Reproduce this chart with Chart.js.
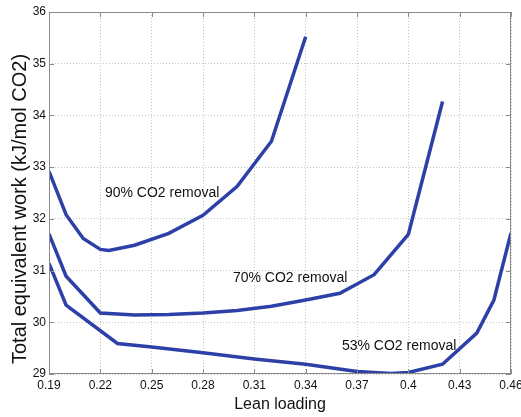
<!DOCTYPE html>
<html>
<head>
<meta charset="utf-8">
<script src="https://cdn.jsdelivr.net/npm/chart.js@4.4.0/dist/chart.umd.min.js"></script>
<style>
  html, body { margin: 0; padding: 0; background: #fff; }
</style>
</head>
<body>
<canvas id="workChart" width="521" height="417"></canvas>
<script>
// --- data ---
const xTicks = [0.19, 0.22, 0.25, 0.28, 0.31, 0.34, 0.37, 0.40, 0.43, 0.46];
const xTickLabels = ['0.19', '0.22', '0.25', '0.28', '0.31', '0.34', '0.37', '0.4', '0.43', '0.46'];
const yTicks = [29, 30, 31, 32, 33, 34, 35, 36];

const loading90 = [0.19, 0.20, 0.21, 0.22, 0.225, 0.24, 0.26, 0.28, 0.30, 0.32, 0.34];
const work90 = [32.92, 32.08, 31.62, 31.41, 31.39, 31.49, 31.72, 32.07, 32.63, 33.5, 35.52];

const loading70 = [0.19, 0.20, 0.22, 0.24, 0.26, 0.28, 0.30, 0.32, 0.34, 0.36, 0.38, 0.40, 0.42];
const work70 = [31.71, 30.89, 30.18, 30.14, 30.15, 30.18, 30.23, 30.31, 30.43, 30.56, 30.92, 31.7, 34.27];

const loading53 = [0.19, 0.20, 0.23, 0.25, 0.28, 0.31, 0.34, 0.37, 0.39, 0.40, 0.42, 0.44, 0.45, 0.46];
const work53 = [31.14, 30.33, 29.59, 29.52, 29.41, 29.29, 29.19, 29.05, 29.01, 29.03, 29.19, 29.79, 30.43, 31.73];

const curveLabels = ['90% CO2 removal', '70% CO2 removal', '53% CO2 removal'];
const curveLabelX = [0.2227, 0.2975, 0.3612];
const curveLabelY = [32.5, 30.86, 29.54];

const lineColor = 'rgb(45, 64, 168)';
const font = '"Liberation Sans", Arial, sans-serif';

function toPoints(xs, ys) {
    return xs.map((x, i) => ({ x: x, y: ys[i] }));
}

function makeSeries(label, xs, ys) {
    return {
        label: label,
        data: toPoints(xs, ys),
        showLine: true,
        borderColor: lineColor,
        borderWidth: 3.5,
        pointRadius: 0,
        tension: 0,
        fill: false
    };
}

// --- box frame, inward ticks, curve labels and y title (MATLAB look) ---
const matlabFrame = {
    id: 'matlabFrame',
    afterDraw(chart) {
        const { ctx, chartArea: a, scales: { x, y } } = chart;
        ctx.save();
        ctx.strokeStyle = '#8a8a8a';
        ctx.lineWidth = 1;
        ctx.strokeRect(Math.round(a.left) + 0.5, Math.round(a.top) + 0.5,
            Math.round(a.width) - 1, Math.round(a.height) - 1);

        const len = 5;
        ctx.beginPath();
        xTicks.forEach(v => {
            const px = Math.round(x.getPixelForValue(v)) + 0.5;
            ctx.moveTo(px, a.bottom); ctx.lineTo(px, a.bottom - len);
            ctx.moveTo(px, a.top); ctx.lineTo(px, a.top + len);
        });
        yTicks.forEach(v => {
            const py = Math.round(y.getPixelForValue(v)) + 0.5;
            ctx.moveTo(a.left, py); ctx.lineTo(a.left + len, py);
            ctx.moveTo(a.right, py); ctx.lineTo(a.right - len, py);
        });
        ctx.stroke();

        ctx.fillStyle = '#111';
        ctx.font = '14px ' + font;
        ctx.textAlign = 'left';
        ctx.textBaseline = 'middle';
        curveLabels.forEach((t, i) => {
            ctx.fillText(t, x.getPixelForValue(curveLabelX[i]), y.getPixelForValue(curveLabelY[i]));
        });

        ctx.translate(20, 209);
        ctx.rotate(-Math.PI / 2);
        ctx.textAlign = 'center';
        ctx.font = '20px ' + font;
        ctx.fillText('Total equivalent work (kJ/mol CO2)', 0, 0);
        ctx.restore();
    }
};

const ctx = document.getElementById('workChart').getContext('2d');
new Chart(ctx, {
    type: 'scatter',
    data: {
        datasets: [
            makeSeries('90% CO2 removal', loading90, work90),
            makeSeries('70% CO2 removal', loading70, work70),
            makeSeries('53% CO2 removal', loading53, work53)
        ]
    },
    options: {
        responsive: false,
        animation: false,
        devicePixelRatio: 1,
        layout: { padding: { left: 0, right: 10, top: 12, bottom: 0 } },
        plugins: { legend: { display: false }, tooltip: { enabled: false } },
        scales: {
            x: {
                type: 'linear',
                min: 0.19,
                max: 0.46,
                afterBuildTicks: s => { s.ticks = xTicks.map(v => ({ value: v })); },
                afterFit: s => { s.height = 43; s.paddingLeft = 0; s.paddingRight = 0; },
                grid: { color: '#c4c4c4', lineWidth: 1, drawTicks: false },
                border: { display: false, dash: [1, 2] },
                ticks: {
                    color: '#111',
                    padding: 4,
                    maxRotation: 0,
                    font: { family: font, size: 12 },
                    callback: (v, i) => xTickLabels[i]
                },
                title: {
                    display: true,
                    text: 'Lean loading',
                    color: '#111',
                    font: { family: font, size: 16 },
                    padding: { top: 0, bottom: 3 }
                }
            },
            y: {
                min: 29,
                max: 36,
                afterBuildTicks: s => { s.ticks = yTicks.map(v => ({ value: v })); },
                afterFit: s => { s.width = 49; s.paddingTop = 0; s.paddingBottom = 0; },
                grid: { color: '#c4c4c4', lineWidth: 1, drawTicks: false },
                border: { display: false, dash: [1, 2] },
                ticks: {
                    color: '#111',
                    padding: 3,
                    font: { family: font, size: 12 },
                    callback: v => String(v)
                }
            }
        }
    },
    plugins: [matlabFrame]
});
</script>
</body>
</html>
